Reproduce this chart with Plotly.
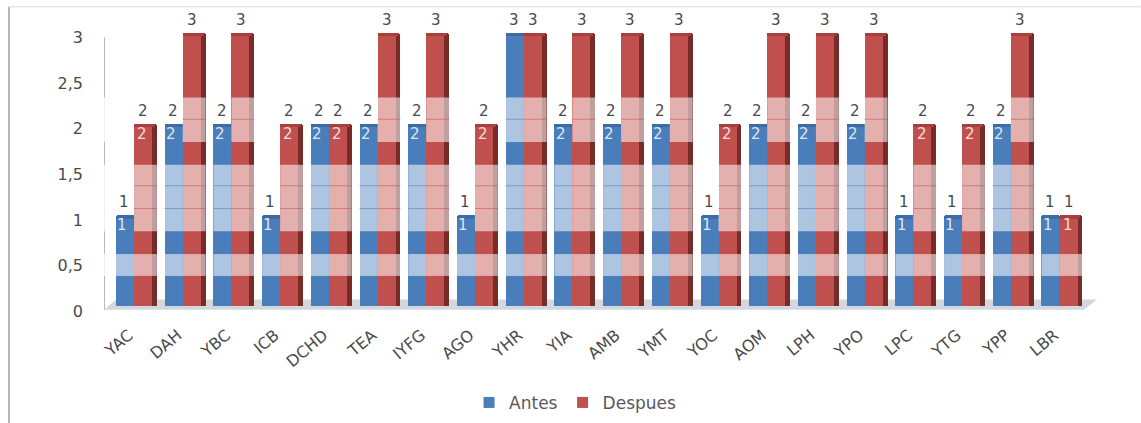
import plotly.graph_objects as go

categories = ["YAC", "DAH", "YBC", "ICB", "DCHD", "TEA", "IYFG", "AGO", "YHR", "YIA",
              "AMB", "YMT", "YOC", "AOM", "LPH", "YPO", "LPC", "YTG", "YPP", "LBR"]
antes = [1, 2, 2, 1, 2, 2, 2, 1, 3, 2, 2, 2, 1, 2, 2, 2, 1, 1, 2, 1]
despues = [2, 3, 3, 2, 2, 3, 3, 2, 3, 3, 3, 3, 2, 3, 3, 3, 2, 2, 3, 1]
y_ticks = [0, 0.5, 1, 1.5, 2, 2.5, 3]
y_labels = ["0", "0,5", "1", "1,5", "2", "2,5", "3"]

BLUE, RED, RED_SIDE = "#4a7ebb", "#c0504d", "#772c2a"
BLUE_TOP, RED_TOP = "#3c6ca6", "#a83f3c"
TXT = "#4a4a4a"
W = 0.37          # bar width in category units
SIDE = 0.10
CAP = 0.04
BANDS = [(1.80, 2.29), (0.82, 1.55), (0.33, 0.57)]
BAND_LINES = [2.05, 1.32, 1.07]

idx = list(range(len(categories)))
fig = go.Figure()


def bar(y, color, width, offset, base=None):
    fig.add_trace(go.Bar(x=categories, y=y, base=base, width=width, offset=offset,
                         marker=dict(color=color, line=dict(width=0)),
                         showlegend=False, hoverinfo="skip"))


bar(despues, RED_SIDE, 0.2, W + SIDE - 0.2)
bar(antes, BLUE, W + 0.02, -W)
bar(despues, RED, W, 0)
bar([CAP] * 20, BLUE_TOP, W, -W, base=[v - CAP for v in antes])
bar([CAP] * 20, RED_TOP, W + SIDE * 0.6, 0, base=[v - CAP for v in despues])

for name, color in (("Antes", BLUE), ("Despues", RED)):
    fig.add_trace(go.Scatter(x=[None], y=[None], mode="markers", name=name,
                             marker=dict(symbol="square", size=11, color=color)))

shapes = []
# floor of the 3-D plot, drawn beneath the bars
shapes.append(dict(type="path", layer="below", xref="x", yref="y",
                   path="M -0.616,-0.04 L 19.5,-0.04 L 19.77,0.07 L -0.37,0.07 Z",
                   fillcolor="#d3d8de", line=dict(width=0)))


def fade(x0, x1, value, line_color):
    for lo, hi in BANDS:
        if value >= hi or lo < 0.6:
            shapes.append(dict(type="rect", layer="above", xref="x", yref="y", x0=x0, x1=x1,
                               y0=lo, y1=hi, fillcolor="rgba(255,255,255,0.55)", line=dict(width=0)))
            for lv in BAND_LINES:
                if lo < lv < hi:
                    shapes.append(dict(type="line", layer="above", xref="x", yref="y", x0=x0, x1=x1,
                                       y0=lv, y1=lv, line=dict(color=line_color, width=1)))


# faded horizontal bands over each bar, skipped where a bar top falls inside the band
for i in idx:
    fade(i - W, i, antes[i], "rgba(74,126,187,0.55)")
    fade(i, i + W + SIDE, despues[i], "rgba(192,80,77,0.55)")
# y axis line, faded where the bands cross it
shapes.append(dict(type="line", xref="x", yref="y", x0=-0.616, x1=-0.616, y0=-0.04, y1=2.95,
                   line=dict(color="#8c8c8c", width=1.2), layer="below"))
for lo, hi in BANDS:
    shapes.append(dict(type="rect", layer="above", xref="x", yref="y", x0=-0.64, x1=-0.4,
                       y0=lo, y1=hi, fillcolor="rgba(255,255,255,0.8)", line=dict(width=0)))
# frame of the picture
shapes.append(dict(type="line", xref="paper", yref="paper", x0=-0.0957, x1=-0.0957, y0=-0.4, y1=1.045,
                   line=dict(color="#b5b5b5", width=2)))
shapes.append(dict(type="line", xref="paper", yref="paper", x0=-0.0957, x1=1.044, y0=1.045, y1=1.045,
                   line=dict(color="#e6e6e6", width=1.5)))

annotations = []


def label(x, y, color, yshift, size=15):
    annotations.append(dict(x=x, y=y, xref="x", yref="y", text=str(y), showarrow=False,
                            font=dict(color=color, size=size, family="DejaVu Sans"), yshift=yshift))


for i in idx:
    label(i - 0.2, antes[i], TXT, 13)
    label(i + 0.19, despues[i], TXT, 13)
    if antes[i] < 3:
        label(i - 0.24, antes[i], "#dbe6f3", -10)
    if despues[i] < 3:
        label(i + 0.17, despues[i], "#f4dcdc", -10)

fig.update_layout(
    width=1141, height=423, barmode="overlay", bargap=0,
    barcornerradius=3, plot_bgcolor="white", paper_bgcolor="white",
    margin=dict(l=104, r=44, t=20, b=111),
    font=dict(family="DejaVu Sans", color=TXT),
    shapes=shapes, annotations=annotations,
    legend=dict(orientation="h", x=0.504, xanchor="center", xref="container", y=0.005, yref="container",
                yanchor="bottom", font=dict(size=17, color="#595959"), itemwidth=30,
                traceorder="normal"),
    xaxis=dict(type="category", categoryorder="array", categoryarray=categories,
               range=[-0.616, 19.77], tickangle=-40, showgrid=False, ticks="",
               showline=False, tickfont=dict(size=16, color=TXT), zeroline=False, automargin=False,
               ticklabelstandoff=10, ticklabelshift=-5),
    yaxis=dict(range=[-0.066, 3.14], tickvals=y_ticks, ticktext=y_labels, showgrid=False,
               zeroline=False, showline=False, ticks="", tickfont=dict(size=16, color=TXT),
               ticklabelshift=5, ticklabelstandoff=20, automargin=False),
)

fig.write_html("out.html", config=dict(displayModeBar=False),
               post_script="document.body.style.margin='0';document.body.style.overflow='hidden';")
